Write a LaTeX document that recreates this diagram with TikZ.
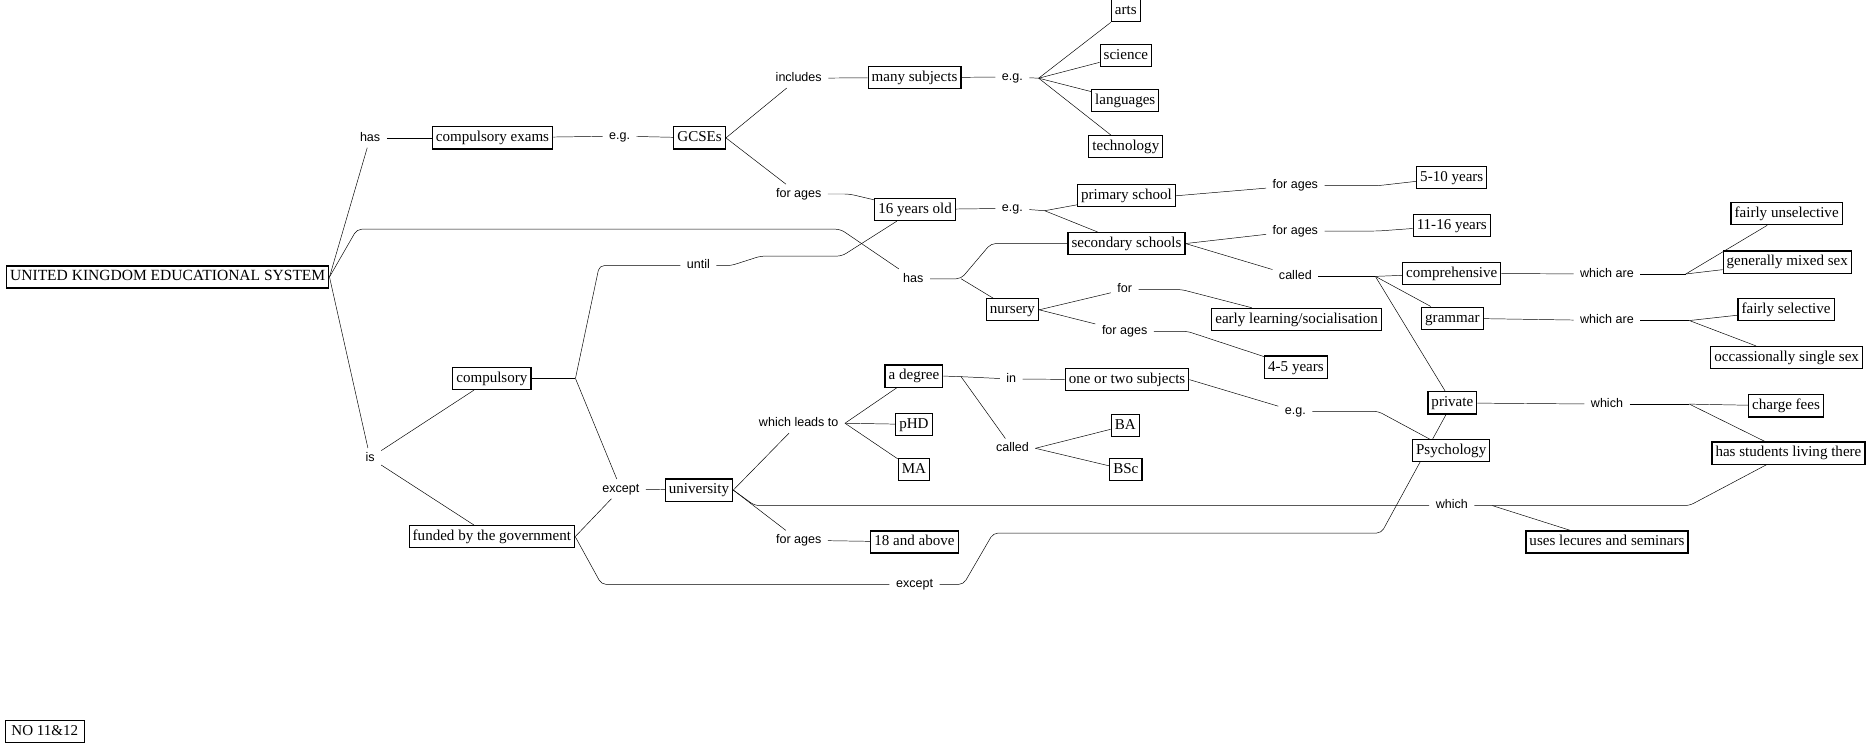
\documentclass[tikz,border=0pt]{standalone}
\usepackage{fontspec}
\setmainfont{Liberation Serif}
\newfontfamily\linkfont{Liberation Sans}
\usepackage{tikz}
\usetikzlibrary{
    backgrounds,
}

\begin{document}
\begin{tikzpicture}[
    x=1pt, y=-1pt,
    line width=1pt,
    concept/.style = {draw, fill=white, inner xsep=3pt, inner ysep=3pt,
                      text height=9.5pt, text depth=3pt,
                      font=\fontsize{12.6}{14}\selectfont},
    link/.style    = {inner xsep=5pt, inner ysep=3pt,
                      text height=7.5pt, text depth=2pt,
                      font=\linkfont\fontsize{10.5}{12}\selectfont},
    conn/.style    = {rounded corners=4pt},
]
\useasboundingbox (0,0) rectangle (1568,623);

%% ── Concepts ─────────────────────────────────────────────────────────────────
\node[concept, font=\fontsize{13}{14}\selectfont]
               (ukes)      at (140.5,232)   {UNITED KINGDOM EDUCATIONAL SYSTEM};
\node[concept] (cexams)    at (412.5,115.5) {compulsory exams};
\node[concept] (gcse)      at (586,115.5)   {GCSEs};
\node[concept] (manysub)   at (766,65)      {many subjects};
\node[concept] (arts)      at (943,9)       {arts};
\node[concept] (science)   at (943,46.5)    {science};
\node[concept] (lang)      at (942.5,84)    {languages};
\node[concept] (tech)      at (943,123)     {technology};
\node[concept] (sixteen)   at (766.5,175.5) {16 years old};
\node[concept] (primary)   at (943.5,164)   {primary school};
\node[concept] (secondary) at (943.5,204)   {secondary schools};
\node[concept] (fiveten)   at (1216,148.5)  {5-10 years};
\node[concept] (elevsix)   at (1216,189)    {11-16 years};
\node[concept] (nursery)   at (848,259.5)   {nursery};
\node[concept] (early)     at (1086,267.5)  {early learning/socialisation};
\node[concept] (fourfive)  at (1085.5,307.5) {4-5 years};
\node[concept] (compr)     at (1216,229)    {comprehensive};
\node[concept] (grammar)   at (1216.5,266.5) {grammar};
\node[concept] (private)   at (1216.5,337.5) {private};
\node[concept] (psych)     at (1215.5,377.5) {Psychology};
\node[concept] (funsel)    at (1496.5,179)  {fairly unselective};
\node[concept] (mixed)     at (1497,219.5)  {generally mixed sex};
\node[concept] (fairsel)   at (1496,259.5)  {fairly selective};
\node[concept] (single)    at (1496.5,299.5) {occassionally single sex};
\node[concept] (fees)      at (1496,340)    {charge fees};
\node[concept] (living)    at (1498,379.5)  {has students living there};
\node[concept] (lectures)  at (1346,454)    {uses lecures and seminars};
\node[concept] (compulsory) at (412,317)    {compulsory};
\node[concept] (funded)    at (412,449.5)   {funded by the government};
\node[concept] (univ)      at (585.5,410.5) {university};
\node[concept] (degree)    at (765.5,315)   {a degree};
\node[concept] (phd)       at (765.5,355.5) {pHD};
\node[concept] (ma)        at (765.5,393.5) {MA};
\node[concept] (onetwo)    at (944,318)     {one or two subjects};
\node[concept] (ba)        at (942.5,356.5) {BA};
\node[concept] (bsc)       at (943,393.5)   {BSc};
\node[concept] (eighteen)  at (766,454)     {18 and above};
\node[concept, inner xsep=5pt] (sheet) at (37.5,613) {NO 11\&12};

%% ── Linking phrases ──────────────────────────────────────────────────────────
\node[link] (lhas1)    at (310,115.5) {has};
\node[link] (leg1)     at (519,114)  {e.g.};
\node[link] (lincl)    at (669,65.5) {includes};
\node[link] (leg2)     at (848,64.5) {e.g.};
\node[link] (lages1)   at (669,162.5) {for ages};
\node[link] (leg3)     at (848,174.5) {e.g.};
\node[link] (lages2)   at (1085,155.5) {for ages};
\node[link] (lages3)   at (1085,193.5) {for ages};
\node[link] (lcalled1) at (1085,231.5) {called};
\node[link] (luntil)   at (585,222.5) {until};
\node[link] (lhas2)    at (765,233.5) {has};
\node[link] (lfor)     at (942,242.5) {for};
\node[link] (lages4)   at (942,277.5) {for ages};
\node[link] (lwhich1)  at (1346,229.5) {which are};
\node[link] (lwhich2)  at (1346,268.5) {which are};
\node[link] (lwhich3)  at (1346,338.5) {which};
\node[link] (leg4)     at (1085,344.5) {e.g.};
\node[link] (lin)      at (847,317.5) {in};
\node[link] (lcalled2) at (848,375.5) {called};
\node[link] (lleads)   at (669,354.5) {which leads to};
\node[link] (lis)      at (310,383.5) {is};
\node[link] (lexc1)    at (520,409.5) {except};
\node[link] (lages5)   at (669,452.5) {for ages};
\node[link] (lexc2)    at (766,489.5) {except};
\node[link] (lwhich4)  at (1216,423.5) {which};

%% ── Junctions ────────────────────────────────────────────────────────────────
\coordinate (jeg2)  at (870,65.5);
\coordinate (jeg3)  at (875,176.5);
\coordinate (jcall) at (1152,231.5);
\coordinate (jw1)   at (1412,229.5);
\coordinate (jw2)   at (1415,268.5);
\coordinate (jw3)   at (1415,338.5);
\coordinate (jw4)   at (1250,423.5);
\coordinate (jh2)   at (805,233.5);
\coordinate (jcomp) at (482,317);
\coordinate (jdeg)  at (805,315.5);

%% ── Connectors ───────────────────────────────────────────────────────────────
\begin{scope}[on background layer]
  % exams
  \draw (ukes.east) -- (lhas1);
  \draw (lhas1) -- (cexams);
  \draw (cexams) -- (leg1);
  \draw (leg1) -- (gcse);
  \draw (gcse.east) -- (lincl);
  \draw (gcse.east) -- (lages1);
  \draw (lincl) -- (manysub);
  \draw (manysub) -- (leg2);
  \draw (leg2) -- (jeg2);
  \foreach \t in {arts,science,lang,tech}
    \draw (jeg2) -- (\t);
  \draw[conn] (lages1.east) -- ++(18,0) -- (sixteen);
  \draw (sixteen) -- (leg3);
  \draw (leg3) -- (jeg3);
  \foreach \t in {primary,secondary}
    \draw (jeg3) -- (\t);
  \draw (primary.east) -- (lages2);
  \draw[conn] (lages2.east) -- ++(45,0) -- (fiveten);
  \draw (secondary.east) -- (lages3);
  \draw[conn] (lages3.east) -- ++(45,0) -- (elevsix);
  \draw (secondary.east) -- (lcalled1);
  \draw (lcalled1) -- (jcall);
  \foreach \t in {compr,grammar,private}
    \draw (jcall) -- (\t);
  \draw (compr) -- (lwhich1);
  \draw (lwhich1) -- (jw1);
  \foreach \t in {funsel,mixed}
    \draw (jw1) -- (\t);
  \draw (grammar) -- (lwhich2);
  \draw (lwhich2) -- (jw2);
  \foreach \t in {fairsel,single}
    \draw (jw2) -- (\t);
  \draw (private) -- (lwhich3);
  \draw (lwhich3) -- (jw3);
  \foreach \t in {fees,living}
    \draw (jw3) -- (\t);

  % schools
  \draw[conn] (ukes.east) -- ++(23,-40) -- ++(405,0) -- (lhas2);
  \draw[conn] (lhas2) -- (jh2) -- ++(25,-29.5) -- (secondary);
  \draw (jh2) -- (nursery);
  \draw (nursery.east) -- (lfor);
  \draw (nursery.east) -- (lages4);
  \draw[conn] (lfor.east) -- ++(36,0) -- (early);
  \draw[conn] (lages4.east) -- ++(28,0) -- (fourfive);

  % compulsory / funded
  \draw (ukes.east) -- (lis);
  \draw (lis) -- (compulsory);
  \draw (lis) -- (funded);
  \draw (compulsory.east) -- (jcomp);
  \draw[conn] (jcomp) -- ++(20,-94.5) -- (luntil);
  \draw[conn] (luntil.east) -- ++(12,0) -- ++(25,-8) -- ++(68,0) -- (sixteen);
  \draw (jcomp) -- (lexc1);
  \draw (funded.east) -- (lexc1);
  \draw (lexc1) -- (univ);
  \draw[conn] (funded.east) -- ++(22,40) -- (lexc2);
  \draw[conn] (lexc2.east) -- ++(20,0) -- ++(25,-43) -- ++(325,0) -- (private);

  % university
  \draw (univ.east) -- (lleads);
  \foreach \t in {degree,phd,ma}
    \draw (lleads.east) -- (\t);
  \draw (degree.east) -- (jdeg) -- (lin);
  \draw (jdeg) -- (lcalled2);
  \draw (lin) -- (onetwo);
  \draw (lcalled2.east) -- (ba);
  \draw (lcalled2.east) -- (bsc);
  \draw (onetwo.east) -- (leg4);
  \draw[conn] (leg4.east) -- ++(55,0) -- (psych);
  \draw (univ.east) -- (lages5);
  \draw (lages5) -- (eighteen);
  \draw[conn] (univ.east) -- ++(18,13) -- (lwhich4);
  \draw[conn] (lwhich4) -- (jw4) -- ++(165,0) -- (living);
  \draw (jw4) -- (lectures);
\end{scope}

\end{tikzpicture}
\end{document}
